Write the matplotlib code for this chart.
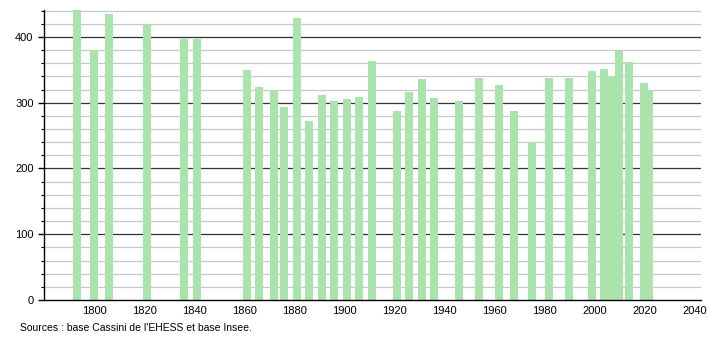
import matplotlib.pyplot as plt
import numpy as np

# census years and population
years = [1793, 1800, 1806, 1821, 1836, 1841, 1861, 1866, 1872, 1876, 1881, 1886,
         1891, 1896, 1901, 1906, 1911, 1921, 1926, 1931, 1936, 1946, 1954, 1962,
         1968, 1975, 1982, 1990, 1999, 2004, 2007, 2010, 2014, 2020, 2022]
population = [441, 380, 435, 420, 397, 397, 350, 324, 319, 293, 429, 272,
              312, 303, 306, 309, 364, 287, 316, 336, 307, 303, 338, 327,
              287, 240, 338, 338, 348, 351, 341, 379, 362, 330, 319]

major_ticks = [0, 100, 200, 300, 400]
year_ticks = [1800, 1820, 1840, 1860, 1880, 1900, 1920, 1940, 1960, 1980, 2000, 2020, 2040]
source_text = "Sources : base Cassini de l'EHESS et base Insee."

plt.rcParams['font.family'] = ['Liberation Sans', 'DejaVu Sans']

fig = plt.figure(figsize=(7.1, 3.4), dpi=100)
ax = fig.add_axes([0.062, 0.1176, 0.925, 0.853])

# grid: grey every 20, dark every 100
for v in range(20, 441, 20):
    if v % 100 == 0:
        ax.axhline(v, color='#333333', lw=0.9, zorder=1)
    else:
        ax.axhline(v, color='#c8c8c8', lw=0.9, zorder=1)

ax.bar(years, population, width=3.2, color='#aae3ab', zorder=2)

ax.set_xlim(1780, 2042.5)
ax.set_ylim(0, 441)
ax.set_yticks(major_ticks)
ax.set_yticks(np.arange(0, 441, 20), minor=True)
ax.set_xticks(year_ticks)
ax.tick_params(axis='y', which='major', length=4, labelsize=8, width=1)
ax.tick_params(axis='y', which='minor', length=2.5, width=0.8)
ax.tick_params(axis='x', length=0, labelsize=8, pad=4)

for s in ['top', 'right']:
    ax.spines[s].set_visible(False)
ax.spines['left'].set_linewidth(1)
ax.spines['bottom'].set_linewidth(1)

fig.text(0.028, 0.035, source_text, fontsize=7.5, ha='left', va='center')

fig.savefig('out.png', dpi=100)
